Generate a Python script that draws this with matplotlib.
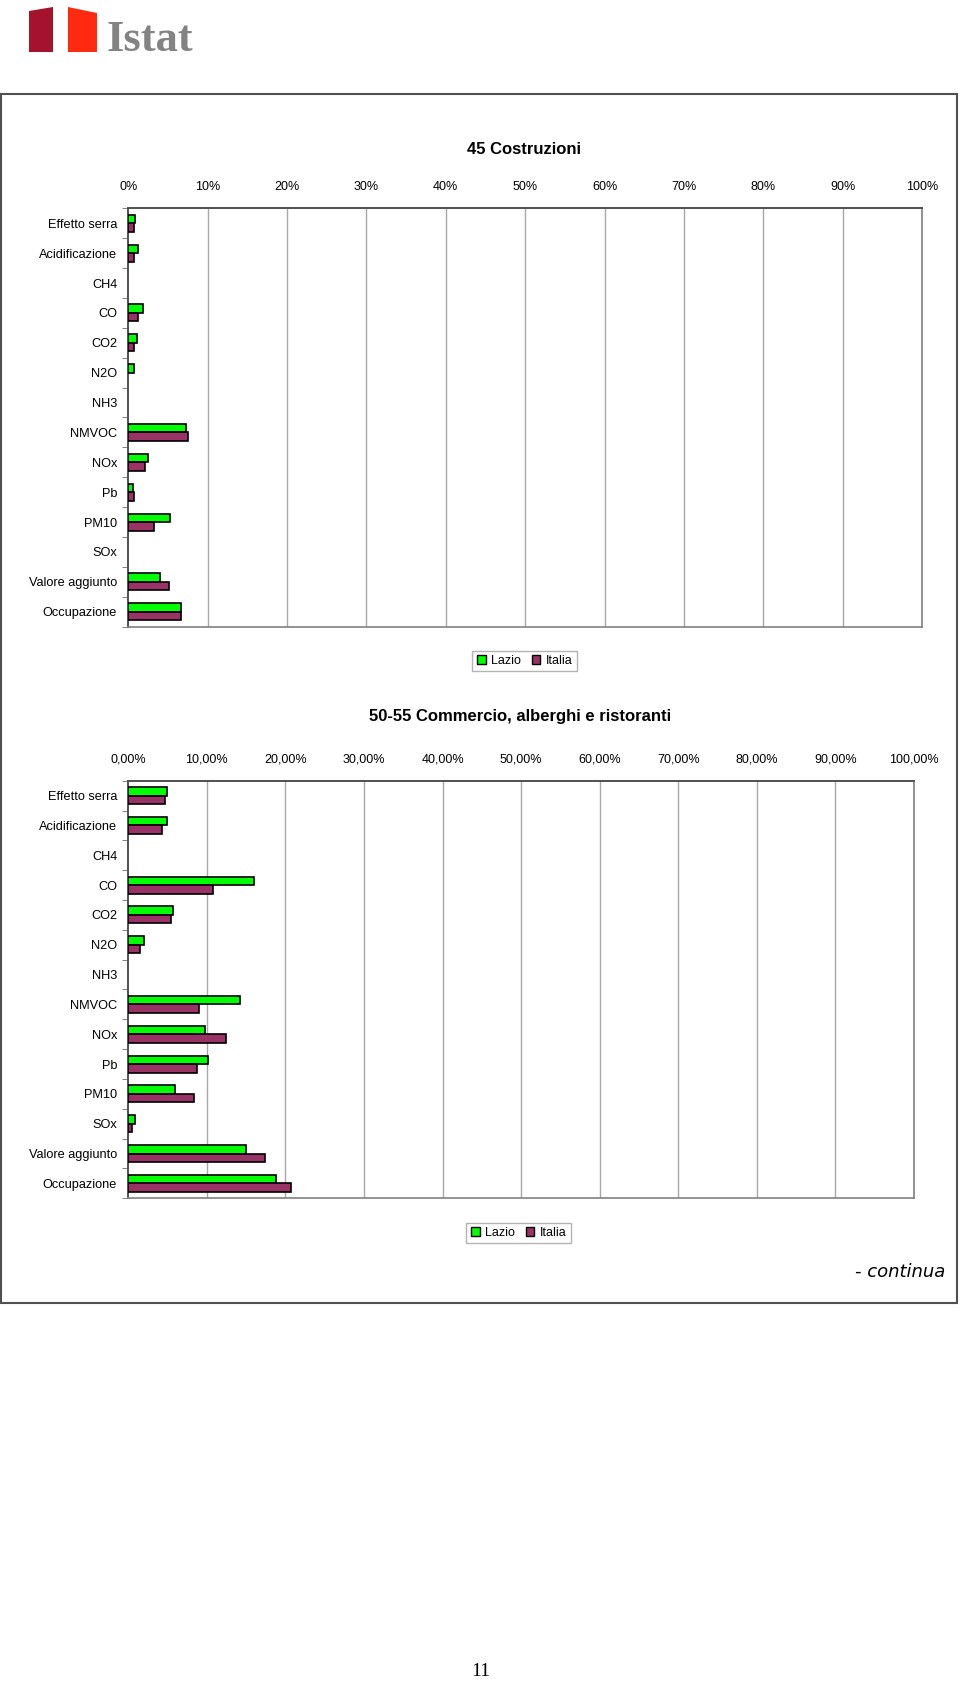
import matplotlib.pyplot as plt
import matplotlib.patches as mpatches
from matplotlib.patches import Polygon, Rectangle
import numpy as np

plt.rcParams['font.family'] = ['Liberation Sans', 'DejaVu Sans']

# categories (top to bottom)
categories = ["Effetto serra", "Acidificazione", "CH4", "CO", "CO2", "N2O", "NH3",
              "NMVOC", "NOx", "Pb", "PM10", "SOx", "Valore aggiunto", "Occupazione"]

# 45 Costruzioni (%)
costr_lazio = [0.85, 1.26, 0, 1.81, 1.06, 0.68, 0, 7.28, 2.48, 0.64, 5.30, 0, 4.04, 6.65]
costr_italia = [0.68, 0.68, 0, 1.26, 0.68, 0, 0, 7.49, 2.07, 0.68, 3.28, 0, 5.09, 6.65]

# 50-55 Commercio, alberghi e ristoranti (%)
comm_lazio = [4.88, 4.88, 0, 15.99, 5.69, 2.04, 0, 14.17, 9.76, 10.14, 5.90, 0.85, 14.97, 18.83]
comm_italia = [4.71, 4.29, 0, 10.74, 5.47, 1.45, 0, 8.96, 12.39, 8.74, 8.32, 0.43, 17.43, 20.66]

ticks = [0, 10, 20, 30, 40, 50, 60, 70, 80, 90, 100]
labels_top = ["0%", "10%", "20%", "30%", "40%", "50%", "60%", "70%", "80%", "90%", "100%"]
labels_bottom = ["0,00%", "10,00%", "20,00%", "30,00%", "40,00%", "50,00%",
                 "60,00%", "70,00%", "80,00%", "90,00%", "100,00%"]

GREEN = "#00FF00"
MAROON = "#993366"

W, H = 960, 1689
fig = plt.figure(figsize=(W / 100, H / 100), dpi=100)


def box(x0, y0, x1, y1):
    # pixel box -> figure fraction rect
    return [x0 / W, 1 - y1 / H, (x1 - x0) / W, (y1 - y0) / H]


def bar_panel(rect, lazio, italia, ticklabels):
    ax = fig.add_axes(rect)
    y = np.arange(len(categories))
    h = 0.285
    lz = np.array(lazio, dtype=float)
    it = np.array(italia, dtype=float)
    # empty categories get no bar at all
    ml = lz > 0
    mi = it > 0
    ax.barh(y[ml] - h / 2, lz[ml], height=h, color=GREEN, edgecolor="black", linewidth=1.2, zorder=3)
    ax.barh(y[mi] + h / 2, it[mi], height=h, color=MAROON, edgecolor="black", linewidth=1.2, zorder=3)
    ax.set_xlim(0, 100)
    ax.set_ylim(len(categories) - 0.5, -0.5)
    ax.xaxis.tick_top()
    ax.set_xticks(ticks)
    ax.set_xticklabels(ticklabels, fontsize=9)
    ax.tick_params(axis="x", length=0, pad=11)
    ax.set_yticks(y)
    ax.set_yticklabels(categories, fontsize=9.2)
    ax.set_yticks(np.arange(len(categories) + 1) - 0.5, minor=True)
    ax.tick_params(axis="y", which="major", length=0, pad=8)
    ax.tick_params(axis="y", which="minor", length=4, color="#707070")
    for t in ticks[1:]:
        ax.axvline(t, color="#A8A8A8", linewidth=1, zorder=1)
    for s in ["top", "left"]:
        ax.spines[s].set_color("#505050")
        ax.spines[s].set_linewidth(1.4)
    for s in ["right", "bottom"]:
        ax.spines[s].set_color("#808080")
        ax.spines[s].set_linewidth(1.2)
    return ax


def legend_at(cx, cy):
    handles = [mpatches.Patch(facecolor=GREEN, edgecolor="black", label="Lazio"),
               mpatches.Patch(facecolor=MAROON, edgecolor="black", label="Italia")]
    lg = fig.legend(handles=handles, loc="center", bbox_to_anchor=(cx / W, 1 - cy / H),
                    ncol=2, fontsize=9, frameon=True, fancybox=False,
                    handlelength=0.7, handleheight=0.7, handletextpad=0.4,
                    columnspacing=0.9, borderpad=0.35)
    lg.get_frame().set_edgecolor("#A0A0A0")
    lg.get_frame().set_linewidth(1)


# outer frame
fig.patches.append(Rectangle((1 / W, 1 - 1303 / H), 956 / W, (1303 - 94) / H,
                             transform=fig.transFigure, fill=False,
                             edgecolor="#505050", linewidth=1.5))

# logo
fig.patches.append(Polygon([(29 / W, 1 - 52 / H), (53 / W, 1 - 52 / H), (53 / W, 1 - 7 / H),
                            (29 / W, 1 - 11 / H)], closed=True, transform=fig.transFigure,
                           facecolor="#A5122E", edgecolor="none"))
fig.patches.append(Polygon([(68 / W, 1 - 52 / H), (97 / W, 1 - 52 / H), (97 / W, 1 - 13 / H),
                            (68 / W, 1 - 7 / H)], closed=True, transform=fig.transFigure,
                           facecolor="#FF2A10", edgecolor="none"))
fig.text(107 / W, 1 - 51 / H, "Istat", fontsize=32, family="Liberation Serif",
         fontweight="bold", color="#838383", ha="left", va="baseline")

# panel 1
fig.text(524 / W, 1 - 149 / H, "45 Costruzioni", fontsize=12, fontweight="bold",
         ha="center", va="center")
bar_panel(box(128.3, 208.3, 922, 626.7), costr_lazio, costr_italia, labels_top)
legend_at(524.5, 661)

# panel 2
fig.text(520 / W, 1 - 716.5 / H, "50-55 Commercio, alberghi e ristoranti", fontsize=12,
         fontweight="bold", ha="center", va="center")
bar_panel(box(128.3, 780.7, 914, 1198.3), comm_lazio, comm_italia, labels_bottom)
legend_at(518.5, 1233)

fig.text(945 / W, 1 - 1272 / H, "- continua", fontsize=13, style="italic",
         family="DejaVu Sans", ha="right", va="center")

# page number
fig.text(481 / W, 1 - 1672 / H, "11", fontsize=14, family="Liberation Serif",
         ha="center", va="center")

fig.savefig("out.png", dpi=100)
